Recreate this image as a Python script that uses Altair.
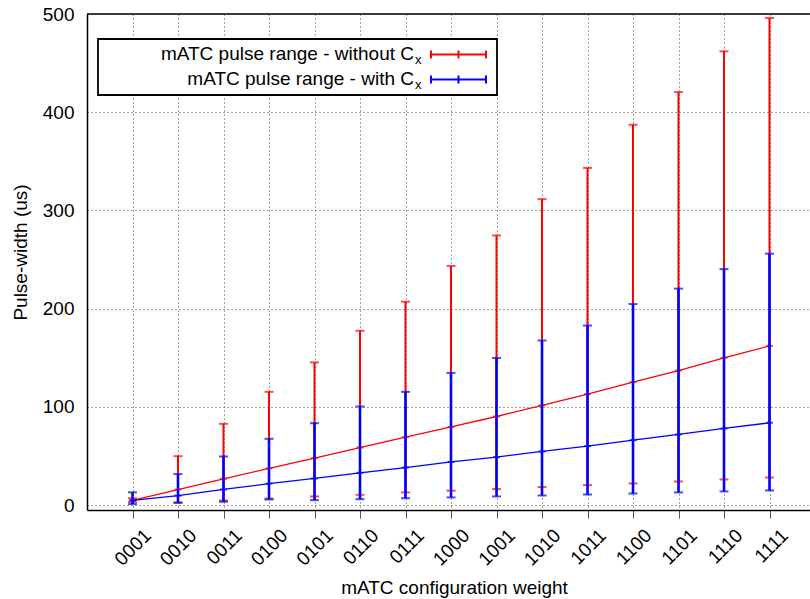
import altair as alt
import pandas as pd

codes = ["0001", "0010", "0011", "0100", "0101", "0110", "0111", "1000",
         "1001", "1010", "1011", "1100", "1101", "1110", "1111"]
idx = list(range(1, 16))

red_mid = [4.7, 15.8, 26.8, 37.3, 47.8, 58.6, 69.2, 79.6, 90.2, 101.5, 113, 125.2, 137, 149.9, 162.1]
red_low = [3, 2.7, 4.7, 6.7, 8.8, 10.5, 12.9, 14.7, 16.3, 18.3, 20.3, 22, 24, 26.1, 28.1]
red_high = [7, 49.8, 82.7, 115.3, 145.3, 177.5, 207.1, 243.5, 274.5, 311.5, 343.3, 387.2, 420.5, 462, 496]

blue_mid = [4.7, 9.6, 15.9, 21.8, 27.1, 32.9, 38.2, 43.9, 48.8, 54.6, 60, 66.1, 71.9, 78, 83.8]
blue_low = [1, 2.3, 3.4, 5.7, 5, 6, 7, 7.8, 8.8, 9.8, 10.8, 11.8, 12.9, 13.9, 14.9]
blue_high = [13, 31.6, 49.5, 67.5, 83.4, 100.4, 115.3, 134.6, 149.8, 167.6, 182.8, 204.7, 220.4, 240.3, 256]

red_df = pd.DataFrame({"idx": idx, "code": codes, "mid": red_mid, "low": red_low, "high": red_high})
blue_df = pd.DataFrame({"idx": idx, "code": codes, "mid": blue_mid, "low": blue_low, "high": blue_high})

FONT = "Liberation Sans"
label_expr = "[" + ",".join("'%s'" % c for c in codes) + "][datum.value - 1]"

x_axis = alt.Axis(
    values=idx, labelExpr=label_expr, title="mATC configuration weight",
    labelAngle=315, labelAlign="right", labelBaseline="middle",
    labelOffset=15, labelPadding=14, labelFontSize=19, labelFont=FONT,
    labelColor="black", tickSize=8, tickColor="#555", tickWidth=1,
    domainColor="black", domainWidth=1.5,
    grid=True, gridDash=[1, 3], gridColor="#444", gridWidth=1,
    titleFontSize=19, titleFont=FONT, titleFontWeight="normal", titleColor="black",
    titleX=367, titleY=83, titleBaseline="alphabetic", labelOverlap=False,
)
y_axis = alt.Axis(
    values=[0, 100, 200, 300, 400, 500], title="Pulse-width (us)",
    labelFontSize=19, labelFont=FONT, labelColor="black", labelPadding=13,
    ticks=False, domainColor="black", domainWidth=1.5,
    grid=True, gridDash=[1, 3], gridColor="#444", gridWidth=1,
    titleFontSize=19, titleFont=FONT, titleFontWeight="normal", titleColor="black",
    titleX=-67, titleY=238, titleBaseline="middle",
)

xs = alt.Scale(domain=[0, 15.89], nice=False, zero=False)
ys = alt.Scale(domain=[-5, 500], nice=False, zero=False)


def series_layers(df, color, bar_w):
    base = alt.Chart(df)
    X = alt.X("idx:Q", scale=xs, axis=x_axis)
    bars = base.mark_rule(color=color, strokeWidth=bar_w).encode(
        x=X, y=alt.Y("low:Q", scale=ys, axis=y_axis), y2="high:Q")
    cap_lo = base.mark_tick(color=color, orient="horizontal", size=9, thickness=2).encode(
        x=X, y=alt.Y("low:Q", scale=ys, axis=y_axis))
    cap_hi = base.mark_tick(color=color, orient="horizontal", size=9, thickness=2).encode(
        x=X, y=alt.Y("high:Q", scale=ys, axis=y_axis))
    line = base.mark_line(color=color, strokeWidth=1.3).encode(
        x=X, y=alt.Y("mid:Q", scale=ys, axis=y_axis))
    pts = base.mark_tick(color=color, orient="horizontal", size=7, thickness=2).encode(
        x=X, y=alt.Y("mid:Q", scale=ys, axis=y_axis))
    return [bars, cap_lo, cap_hi, line, pts]


one = pd.DataFrame({"k": [0]})
L = alt.Chart(one)

top_rule = L.mark_rule(color="black", strokeWidth=1.5).encode(
    x=alt.value(0), x2=alt.value(723), y=alt.value(0))

legend_box = L.mark_rect(fill="white", stroke="black", strokeWidth=1.8).encode(
    x=alt.value(11), x2=alt.value(410), y=alt.value(25), y2=alt.value(81))

legend_labels = ["mATC pulse range - without C", "mATC pulse range - with C"]
legend_colors = ["#ff0000", "#0000ff"]
legend_layers = []
for i, (lab, col) in enumerate(zip(legend_labels, legend_colors)):
    ry = 40.5 + 25 * i
    base_y = 46 + 24.5 * i
    legend_layers.append(L.mark_text(align="right", baseline="alphabetic", fontSize=19, font=FONT,
                                     color="black").encode(
        x=alt.value(327), y=alt.value(base_y), text=alt.value(lab)))
    legend_layers.append(L.mark_text(align="left", baseline="alphabetic", fontSize=13, font=FONT,
                                     color="black").encode(
        x=alt.value(328), y=alt.value(base_y + 4), text=alt.value("x")))
    legend_layers.append(L.mark_rule(color=col, strokeWidth=2).encode(
        x=alt.value(344), x2=alt.value(399), y=alt.value(ry)))
    for cx in (344, 371.5, 399):
        legend_layers.append(L.mark_rule(color=col, strokeWidth=2).encode(
            x=alt.value(cx), y=alt.value(ry - 4), y2=alt.value(ry + 4)))

layers = series_layers(red_df, "#ff0000", 2) + series_layers(blue_df, "#0000ff", 2.6)
layers += [top_rule, legend_box] + legend_layers

chart = alt.layer(*layers).properties(
    width=723, height=496,
    padding={"left": 87, "top": 14, "right": 0, "bottom": 89},
    autosize=alt.AutoSizeParams(type="none"),
    background="white",
).configure_view(stroke=None)

chart.save("out.html", embed_options={"renderer": "svg", "actions": False})
